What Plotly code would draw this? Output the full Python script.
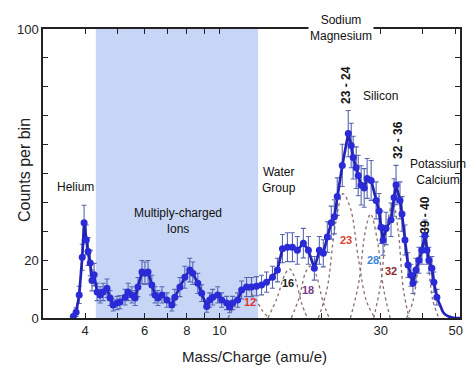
import plotly.graph_objects as go
import math

# ---------------- data ----------------
mass = [3.69, 3.76, 3.84, 3.92, 3.97, 4.03, 4.08, 4.14, 4.19, 4.25, 4.34, 4.43, 4.52, 4.64,
        4.74, 4.84, 4.97, 5.07, 5.25, 5.36, 5.50, 5.62, 5.73, 5.89, 6.01, 6.14, 6.30, 6.44,
        6.57, 6.75, 6.98, 7.22, 7.37, 7.63, 7.89, 8.16, 8.33, 8.62, 8.85, 9.16, 9.35, 9.54,
        9.87, 10.14, 10.49, 10.71, 10.93, 11.31, 11.62, 12.02, 12.43, 12.86, 13.31, 13.77,
        14.34, 14.83, 15.35, 15.88, 16.43, 16.99, 17.70, 18.32, 19.08, 19.74, 20.28, 20.84,
        21.41, 21.86, 22.30, 23.08, 24.04, 24.53, 24.86, 25.38, 25.73, 26.25, 26.80, 27.34,
        28.10, 29.07, 29.66, 30.07, 30.48, 31.11, 32.18, 32.85, 33.30, 34.21, 34.68, 35.39,
        36.12, 36.86, 37.37, 38.14, 38.93, 39.73, 40.54, 41.10, 41.66, 42.52, 43.10, 43.99]
counts = [0.5, 2, 8, 21, 33, 27, 23, 19, 13, 15, 9, 8, 9, 10.3,
          6.9, 4.5, 5.2, 5.5, 7.2, 9, 8, 6.9, 10.7, 15.9, 15.5, 15.9, 11.4, 8,
          6.9, 8, 6.2, 4.5, 7.2, 10.7, 14.1, 16.6, 15.5, 12, 8.6, 4, 6.2, 7.2,
          8, 6.2, 5.2, 3.8, 5.2, 6.2, 9.7, 10.7, 10.7, 11, 11.4, 12.4,
          14.1, 16.6, 24, 24.5, 24.5, 23.4, 25.9, 23.4, 17.2, 23.4, 22.4, 28,
          33, 35, 42, 52.8, 63.8, 59.7, 55.5, 52, 49.3, 45.9, 45, 48.3,
          47.6, 40.7, 37, 31.4, 26.9, 31, 34, 41.7, 46, 40.7, 36, 27,
          18.3, 14.8, 12, 16.6, 20, 23.4, 28.6, 23.4, 20, 17.2, 12.4, 7.2]
errors = [0.8, 1.5, 3, 4.5, 6, 5.2, 4.8, 4.4, 3.6, 3.9, 3, 2.8, 3, 3.2,
          2.6, 2.1, 2.3, 2.3, 2.7, 3, 2.8, 2.6, 3.3, 4, 3.9, 4, 3.4, 2.8,
          2.6, 2.8, 2.5, 2.1, 2.7, 3.3, 3.8, 4.1, 3.9, 3.5, 2.9, 2, 2.5, 2.7,
          2.8, 2.5, 2.3, 2, 2.3, 2.5, 3.1, 3.3, 3.3, 3.3, 3.4, 3.5,
          3.8, 4.1, 4.9, 5, 5, 4.8, 5.1, 4.8, 4.1, 4.8, 4.7, 5.3,
          5.7, 5.9, 6.5, 7.3, 8, 7.7, 7.4, 7.2, 7, 6.8, 6.7, 6.9,
          6.9, 6.4, 6.1, 5.6, 5.2, 5.6, 5.8, 6.5, 6.8, 6.4, 6, 5.2,
          4.3, 3.8, 3.5, 4.1, 4.5, 4.8, 5.3, 4.8, 4.5, 4.1, 3.5, 2.7]

tail_mass = [43.99, 45.2, 46.1, 47.7, 49.7, 51.5]
tail_counts = [7.2, 3.8, 1.7, 0.5, 0.0, 0.0]

# fitted component curves
components = {
    "12": ([10.6, 11.3, 12.0, 12.7, 13.4, 14.0], [0, 6, 10, 7, 2.5, 0]),
    "16": ([13.9, 14.8, 15.6, 16.1, 16.7, 17.5, 18.2], [0, 7, 15, 17, 14, 5, 0]),
    "18": ([16.3, 17.2, 18.0, 18.6, 19.3, 20.2, 21.1], [0, 7, 16, 18, 15, 6, 0]),
    "23": ([19.6, 20.8, 22.0, 23.2, 24.4, 25.8, 27.2, 28.8], [0, 10, 32, 43, 38, 20, 6, 0]),
    "28": ([24.4, 25.8, 27.0, 28.0, 29.2, 30.6, 32.0], [0, 12, 30, 36, 28, 10, 0]),
    "32": ([28.6, 30.0, 31.3, 32.6, 33.8, 35.0, 36.4], [0, 12, 32, 40, 30, 10, 0]),
    "40": ([35.8, 37.4, 38.8, 40.0, 41.3, 42.8, 44.6], [0, 6, 18, 26, 20, 6, 0]),
}

shade_x = [4.3, 4.3, 13.0, 13.0]
shade_y = [0, 100, 100, 0]

x_tickvals = [4, 5, 6, 7, 8, 9, 10, 20, 30, 40, 50]
x_ticktext = ["4", "", "6", "", "8", "", "10", "", "30", "", "50"]
y_tickvals = [0, 10, 20, 30, 40, 50, 60, 70, 80, 90, 100]
y_ticktext = ["0", "", "20", "", "", "", "", "", "", "", "100"]

# ---------------- figure ----------------
# page has an 8px body margin; figure size/margins are set so the plot area lands
# at page x 43..460, y 29..318
OFF = 8
W, H = 476 - OFF, 371 - OFF
L, R, T, B = 43 - OFF, 16, 29 - OFF, 53


def px(xp):
    return (xp - OFF - L) / (W - L - R)


def py(yp):
    return (H - B - (yp - OFF)) / (H - T - B)


fig = go.Figure()

fig.add_trace(go.Scatter(x=shade_x, y=shade_y, mode="lines", fill="toself", fillcolor="#c7d6f7",
                         line=dict(width=0), hoverinfo="skip", showlegend=False))

for name, (mx, cy) in components.items():
    fig.add_trace(go.Scatter(x=mx, y=cy, mode="lines", line=dict(color="#8a6e6e", width=1.3, dash="dot", shape="spline"),
                             hoverinfo="skip", showlegend=False))

fig.add_trace(go.Scatter(x=tail_mass, y=tail_counts, mode="lines",
                         line=dict(color="#2222b6", width=2.7, shape="spline"), showlegend=False))
fig.add_trace(go.Scatter(x=mass, y=counts, mode="lines+markers",
                         line=dict(color="#2222b6", width=2.7),
                         marker=dict(color="#2a2ad6", size=7),
                         error_y=dict(type="data", array=errors, visible=True, color="#5866b0", thickness=1.1, width=2.5),
                         showlegend=False))

font_main = "Liberation Sans Narrow, Liberation Sans, Arial, sans-serif"
font_axis = "Liberation Sans, Arial, sans-serif"

fig.update_layout(
    width=W, height=H, margin=dict(l=L, r=R, t=T, b=B, autoexpand=False),
    paper_bgcolor="white", plot_bgcolor="white",
    font=dict(family=font_main, color="#111", size=12),
    xaxis=dict(type="log", range=[math.log10(3.0), math.log10(51.5)], automargin=False,
               tickvals=x_tickvals, ticktext=x_ticktext, ticks="inside", ticklen=5,
               tickcolor="#222", showline=True, linecolor="#222", linewidth=1.5, mirror="ticks",
               showgrid=False, zeroline=False, tickfont=dict(size=13, family=font_axis, color="#222")),
    yaxis=dict(range=[0, 100], tickvals=y_tickvals, ticktext=y_ticktext, ticks="inside", ticklen=5, automargin=False,
               tickcolor="#222", showline=True, linecolor="#222", linewidth=1.5, mirror="ticks",
               showgrid=False, zeroline=False, tickfont=dict(size=13, family=font_axis, color="#222")),
)

ann = []


def text(xp, yp, s, size=12, color="#111", bold=False, angle=0, bg=None, family=font_main):
    d = dict(x=px(xp), y=py(yp), xref="paper", yref="paper", text=("<b>%s</b>" % s) if bold else s,
             showarrow=False, textangle=angle, font=dict(size=size, color=color, family=family),
             xanchor="center", yanchor="middle")
    if bg:
        d["bgcolor"] = bg
    ann.append(d)


# axis titles
text(255, 356, "Mass/Charge (amu/e)", size=15, color="#222", family=font_axis)
text(24, 170, "Counts per bin", size=16, color="#222", angle=-90, family=font_axis)

text(75, 187, "Helium")
text(178, 221, "Multiply-charged<br>Ions")
text(279, 180, "Water<br>Group")
text(341, 28, "Sodium<br>Magnesium", bg="white")
text(380, 96, "Silicon")
text(438, 172, "Potassium<br>Calcium")
text(346, 85, "23 - 24", bold=True, angle=-90)
text(398, 140, "32 - 36", bold=True, angle=-90)
text(425, 215, "39 - 40", bold=True, angle=-90)
text(250, 302, "12", size=11, color="#e0342c", bold=True)
text(288, 283, "16", size=11, color="#222", bold=True)
text(308, 290, "18", size=11, color="#7a3c8c", bold=True)
text(346, 240, "23", size=11, color="#d8402a", bold=True)
text(373, 260, "28", size=11, color="#3a86d6", bold=True)
text(391, 271, "32", size=11, color="#8a2c2a", bold=True)

fig.update_layout(annotations=ann)
fig.write_html("out.html")
